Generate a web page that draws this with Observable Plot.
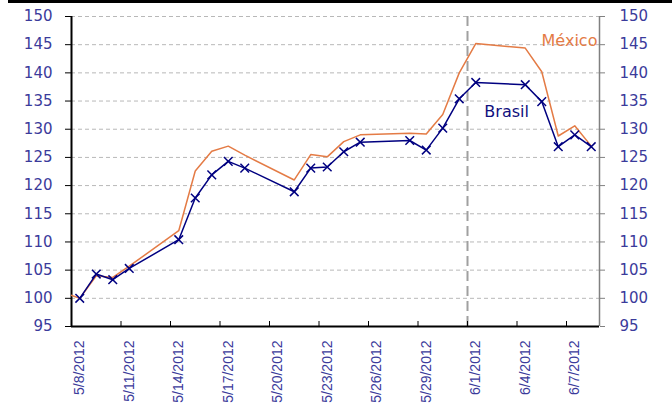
<!DOCTYPE html>
<html>
<head>
<meta charset="utf-8">
<script src="https://cdn.jsdelivr.net/npm/d3@7"></script>
<script src="https://cdn.jsdelivr.net/npm/@observablehq/plot@0.6"></script>
<style>
  html, body { margin: 0; padding: 0; background: white; }
  #wrap { position: relative; width: 672px; height: 408px; }
  #topbar { position: absolute; left: 8px; top: 0; width: 664px; height: 3px; background: black; }
</style>
</head>
<body>
<div id="wrap"><div id="topbar"></div></div>
<script>
// Trading days (Brasil series)
const dates = ["2012-05-08","2012-05-09","2012-05-10","2012-05-11","2012-05-14","2012-05-15","2012-05-16","2012-05-17","2012-05-18","2012-05-21","2012-05-22","2012-05-23","2012-05-24","2012-05-25","2012-05-28","2012-05-29","2012-05-30","2012-05-31","2012-06-01","2012-06-04","2012-06-05","2012-06-06","2012-06-07","2012-06-08"];
const brasil = [100.0,104.3,103.3,105.3,110.4,117.8,121.9,124.3,123.1,118.9,123.1,123.3,126.0,127.7,128.0,126.3,130.2,135.4,138.3,137.9,134.9,126.9,129.0,126.9];

// México series (starts one day earlier, clipped at the axis)
const mexicoDates = ["2012-05-07","2012-05-08","2012-05-09","2012-05-10","2012-05-11","2012-05-14","2012-05-15","2012-05-16","2012-05-17","2012-05-18","2012-05-21","2012-05-22","2012-05-23","2012-05-24","2012-05-25","2012-05-28","2012-05-29","2012-05-30","2012-05-31","2012-06-01","2012-06-04","2012-06-05","2012-06-06","2012-06-07","2012-06-08"];
const mexico = [101.0,100.0,104.0,103.7,105.7,112.0,122.6,126.1,127.0,125.4,121.0,125.5,125.1,127.8,129.0,129.3,129.15,132.6,140.0,145.2,144.4,140.2,128.8,130.6,127.0];

// Axis definitions
const xDomain = ["2012-05-08","2012-06-09"];
const xTickDates = ["2012-05-08","2012-05-11","2012-05-14","2012-05-17","2012-05-20","2012-05-23","2012-05-26","2012-05-29","2012-06-01","2012-06-04","2012-06-07"];
const yTicks = [95,100,105,110,115,120,125,130,135,140,145,150];
const markerDates = ["2012-06-01"];

// Series labels
const seriesLabels = [
  {name: "México", date: "2012-06-08T21:00:00Z", value: 145.6, anchor: "end", color: "#e47b45"},
  {name: "Brasil", date: "2012-06-02T00:30:00Z", value: 133.0, anchor: "start", color: "#10107e"}
];

const midnight = s => new Date(s + "T00:00:00Z");
const noon = s => new Date(s + "T12:00:00Z");

const brasilData = dates.map((d, i) => ({date: noon(d), value: brasil[i]}));
const mexicoData = mexicoDates.map((d, i) => ({date: noon(d), value: mexico[i]}));
const labelData = seriesLabels.map(l => ({...l, date: new Date(l.date)}));

const labelColor = "#3b3b9b";
const fmt = d => `${d.getUTCMonth() + 1}/${d.getUTCDate()}/${d.getUTCFullYear()}`;

const chart = Plot.plot({
  width: 672,
  height: 408,
  marginLeft: 71,
  marginRight: 73,
  marginTop: 16,
  marginBottom: 82,
  style: {fontFamily: "'DejaVu Sans', Verdana, sans-serif", fontSize: "15px", background: "transparent", color: labelColor},
  x: {type: "utc", domain: xDomain.map(midnight)},
  y: {domain: [95, 150]},
  marks: [
    Plot.gridY(yTicks.filter(v => v > 95), {stroke: "#b8b8b8", strokeOpacity: 1, strokeDasharray: "4,3"}),
    Plot.ruleX(markerDates.map(midnight), {stroke: "#a0a0a0", strokeWidth: 2, strokeDasharray: "10,5"}),
    Plot.ruleX([midnight(xDomain[1])], {stroke: "#808080", strokeWidth: 1.5}),
    Plot.ruleX([midnight(xDomain[0])], {stroke: "black", strokeWidth: 2}),
    Plot.ruleY([95], {stroke: "black", strokeWidth: 2}),
    Plot.axisY({anchor: "left", ticks: yTicks, tickSize: 6, tickPadding: 13, label: null, stroke: "black", fill: labelColor}),
    Plot.axisY({anchor: "right", ticks: yTicks, tickSize: 5, tickPadding: 15, label: null, stroke: "#808080", fill: labelColor}),
    Plot.axisX({ticks: xTickDates.map(midnight), tickSize: -5, tickFormat: () => "", label: null, stroke: "black"}),
    Plot.axisX({ticks: xTickDates.map(noon), tickSize: 0, tickPadding: 14, tickRotate: -90, tickFormat: fmt, label: null,
      fill: labelColor, fontSize: 14, fontFamily: "'Liberation Sans', Arial, sans-serif"}),
    Plot.line(mexicoData, {x: "date", y: "value", stroke: "#e47b45", strokeWidth: 1.5, clip: true}),
    Plot.line(brasilData, {x: "date", y: "value", stroke: "#000080", strokeWidth: 1.5}),
    Plot.dot(brasilData, {x: "date", y: "value", symbol: "times", r: 4, stroke: "#000080", strokeWidth: 1.5}),
    Plot.text(labelData.filter(d => d.anchor === "end"), {x: "date", y: "value", text: "name", fill: "color", textAnchor: "end", fontSize: 16}),
    Plot.text(labelData.filter(d => d.anchor === "start"), {x: "date", y: "value", text: "name", fill: "color", textAnchor: "start", fontSize: 16})
  ]
});
document.getElementById("wrap").prepend(chart);
</script>
</body>
</html>
